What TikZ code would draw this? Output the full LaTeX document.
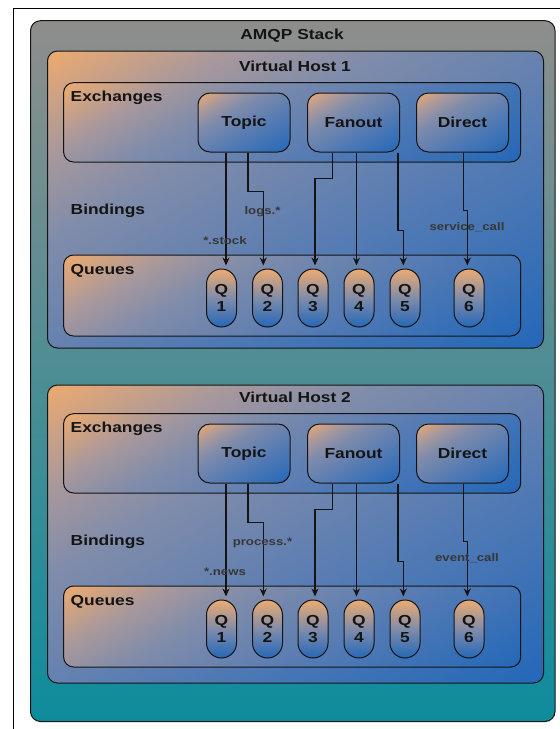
\documentclass[tikz,border=0pt]{standalone}
\usepackage{fontspec}
\setmainfont{Liberation Sans}[FakeStretch=1.2]
\usetikzlibrary{arrows.meta,positioning}

\definecolor{peach}{RGB}{236,170,112}
\definecolor{dusk}{RGB}{168,152,156}
\definecolor{steel}{RGB}{128,140,170}
\definecolor{midblue}{RGB}{82,122,180}
\definecolor{deepblue}{RGB}{36,104,184}
\definecolor{stackgray}{RGB}{142,142,140}
\definecolor{stackteal}{RGB}{14,140,156}
\definecolor{ink}{RGB}{20,20,20}

\pgfdeclareverticalshading{boxshade}{100bp}{color(0bp)=(deepblue); color(16bp)=(deepblue); color(40bp)=(midblue); color(62bp)=(steel); color(72bp)=(dusk); color(84bp)=(peach); color(100bp)=(peach)}

\tikzset{
  stackbox/.style={draw=ink, line width=1pt, rounded corners=10pt, top color=stackgray, bottom color=stackteal},
  hostbox/.style={draw=ink, line width=1pt, rounded corners=10pt, shade, shading=boxshade, shading angle=30},
  exchange/.style={draw=ink, line width=1pt, rounded corners=12pt, minimum width=92pt, minimum height=59pt, shade, shading=boxshade, shading angle=30, font=\bfseries\fontsize{14.5}{17}\selectfont, text=ink},
  queue/.style={draw=ink, line width=1pt, rounded corners=15pt, minimum width=30pt, minimum height=58pt, inner sep=0pt, align=center, top color=peach, bottom color=deepblue, middle color=steel, font=\bfseries\fontsize{14.5}{16.5}\selectfont, text=ink},
  title/.style={font=\bfseries\fontsize{14.5}{17}\selectfont, text=ink, inner sep=0pt},
  key/.style={font=\bfseries\fontsize{11}{13}\selectfont, text=ink!85, inner sep=0pt},
  flow/.style={draw=ink, line width=1.3pt, -{Stealth[length=8pt,width=7pt]}, shorten >=3pt}
}

\begin{document}
\begin{tikzpicture}[x=1pt, y=-1pt]
		\useasboundingbox [fill=white] (0,0) rectangle (560,729);
		\draw [line width=1pt] (13,729) -- (13,8) -- (560,8);
		
		% the whole broker
		\draw [stackbox] (30.5,20.7) rectangle (555,721.5);
		\node [title] (stack) at (292,36) {AMQP Stack};
		
		\foreach \h/\dy/\ya/\yb/\ka/\kb/\kc in {1/0/51/348/*.stock/logs.*/service\_call, 2/331/54/352/*.news/process.*/event\_call}
		{
		\begin{scope}[yshift=-\dy pt]
		\draw [hostbox] (47.5,\ya) rectangle (543.5,\yb);
		\node [title] (host\h) at (295,66) {Virtual Host \h};
		
		\draw [hostbox] (63.6,82.7) rectangle (520.7,162);
		\draw [hostbox] (63.6,255) rectangle (520.7,336);
		\node [title, anchor=west] (exlabel\h) at (70.5,98) {Exchanges};
		\node [title, anchor=west] (bindlabel\h) at (70.5,211) {Bindings};
		\node [title, anchor=west] (qlabel\h) at (70.5,271) {Queues};
		
		\node [exchange] (topic\h) at (244,122.5) {Topic};
		\node [exchange] (fanout\h) at (353.5,122.5) {Fanout};
		\node [exchange] (direct\h) at (462.5,122.5) {Direct};
		
		\foreach \i/\x in {1/221.5, 2/267.5, 3/313, 4/359, 5/405, 6/469}
			\node [queue] (q\h-\i) at (\x,298) {Q\\\i};
		
		% bindings
		\draw [flow] ([xshift=-18pt]topic\h.south) -- ([xshift=-18pt]topic\h.south |- q\h-1.north);
		\draw [flow] ([xshift=4pt]topic\h.south) -- ++(0,39) -| ([xshift=-4.2pt]q\h-2.north);
		\draw [flow] ([xshift=-21pt]fanout\h.south) -- ++(0,26) -| ([xshift=2pt]q\h-3.north);
		\draw [flow] ([xshift=3pt]fanout\h.south) -- ([xshift=3pt]fanout\h.south |- q\h-4.north);
		\draw [flow] ([xshift=44.5pt]fanout\h.south) -- ++(0,78) -| ([xshift=-1.7pt]q\h-5.north);
		\draw [flow] ([xshift=1pt]direct\h.south) -- ++(0,58) -| ([xshift=-1.7pt]q\h-6.north);
		
		\node [key] (keya\h) at (225,240.5) {\ka};
		\node [key] (keyb\h) at (262.5,211.5) {\kb};
		\node [key] (keyc\h) at (467,227) {\kc};
		\end{scope}
		}
\end{tikzpicture}
\end{document}
